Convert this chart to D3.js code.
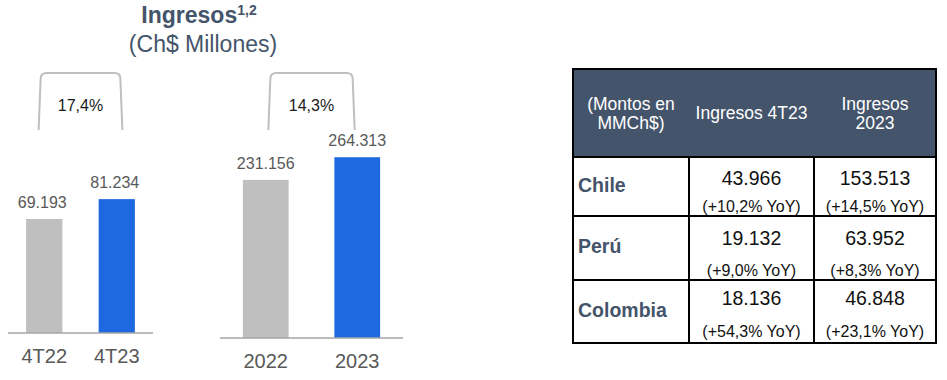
<!DOCTYPE html>
<html><head><meta charset="utf-8">
<script src="https://cdn.jsdelivr.net/npm/d3@7"></script>
<style>body{margin:0;background:#fff}svg{display:block;font-family:"Liberation Sans",Arial,sans-serif}</style>
</head><body><svg id="c" width="947" height="380"></svg>
<script>
// ---- data ----
const quarterCats = ["4T22", "4T23"];
const quarterVals = [69193, 81234];
const quarterGrowth = "17,4%";
const yearCats = ["2022", "2023"];
const yearVals = [231156, 264313];
const yearGrowth = "14,3%";
const tableHeaders = [["(Montos en", "MMCh$)"], ["Ingresos 4T23"], ["Ingresos", "2023"]];
const countries = ["Chile", "Perú", "Colombia"];
const q4Vals = ["43.966", "19.132", "18.136"];
const q4YoY = ["(+10,2% YoY)", "(+9,0% YoY)", "(+54,3% YoY)"];
const yrVals = ["153.513", "63.952", "46.848"];
const yrYoY = ["(+14,5% YoY)", "(+8,3% YoY)", "(+23,1% YoY)"];

const svg = d3.select("#c");
const slate = "#44546A";
const fmt = v => d3.format(",")(v).replace(/,/g, ".");

// Title
const t = svg.append("text").attr("x", 199).attr("y", 23).attr("text-anchor", "middle").attr("fill", slate);
t.append("tspan").attr("font-size", 23).attr("font-weight", "bold").text("Ingresos");
t.append("tspan").attr("font-size", 14).attr("font-weight", "bold").attr("dy", -8).text("1,2");
svg.append("text").attr("x", 203).attr("y", 52).attr("text-anchor", "middle").attr("fill", slate)
  .attr("font-size", 23).text("(Ch$ Millones)");

function barChart(cats, vals, growth, o) {
  const x = d3.scaleBand().domain(cats).range([o.x0, o.x1]).paddingInner(0.5).paddingOuter(0.25);
  const y = d3.scaleLinear().domain([0, o.max]).range([o.base, o.base - o.h]);
  const g = svg.append("g");
  g.selectAll("rect").data(vals).join("rect")
    .attr("x", (d, i) => x(cats[i])).attr("width", x.bandwidth())
    .attr("y", d => y(d)).attr("height", d => y(0) - y(d))
    .attr("fill", (d, i) => i === 0 ? "#BFBFBF" : "#1F69E0");
  g.append("line").attr("x1", o.x0).attr("x2", o.x1).attr("y1", y(0)).attr("y2", y(0))
    .attr("stroke", "#A6A6A6").attr("stroke-width", 1.5);
  g.selectAll("text.v").data(vals).join("text").attr("class", "v")
    .attr("x", (d, i) => x(cats[i]) + x.bandwidth() / 2 - (o.vshift || 0))
    .attr("y", d => y(d) - 11).attr("text-anchor", "middle")
    .attr("font-size", 16).attr("fill", "#595959").text(d => fmt(d));
  const xa = d3.axisBottom(x).tickSize(0).tickPadding(0);
  const ax = g.append("g").attr("transform", `translate(0,${y(0) + o.catDy})`).call(xa);
  ax.select(".domain").remove();
  ax.selectAll("text").attr("font-size", 20).attr("fill", "#595959").attr("dy", 0)
    .attr("font-family", '"Liberation Sans",Arial,sans-serif');
  // bracket
  const bl = x(cats[0]) + x.bandwidth() * o.bf[0], br = x(cats[1]) + x.bandwidth() * o.bf[1];
  const top = 73, bot = 130, r = 6;
  const p = d3.path();
  p.moveTo(bl - 2, bot); p.lineTo(bl, top + r); p.quadraticCurveTo(bl, top, bl + r, top);
  p.lineTo(br - r, top); p.quadraticCurveTo(br, top, br, top + r); p.lineTo(br + 2, bot);
  g.append("path").attr("d", p.toString()).attr("fill", "none").attr("stroke", "#BFBFBF").attr("stroke-width", 2);
  g.append("text").attr("x", (bl + br) / 2).attr("y", 111).attr("text-anchor", "middle")
    .attr("font-size", 16).attr("fill", "#1a1a1a").text(growth);
}
barChart(quarterCats, quarterVals, quarterGrowth, {x0: 8, x1: 153, base: 333, h: 164.8, max: 100000, catDy: 30, bf: [0.4, 0.6], vshift: 2});
barChart(yearCats, yearVals, yearGrowth, {x0: 220, x1: 403, base: 338, h: 205.2, max: 300000, catDy: 30, bf: [0.6, 0.4], vshift: 0});

// Table
const colX = [573, 689, 814, 936];
const rowY = [69, 157, 216, 280, 343];
const tg = svg.append("g");
tg.append("rect").attr("x", colX[0]).attr("y", rowY[0]).attr("width", colX[3] - colX[0]).attr("height", rowY[1] - rowY[0])
  .attr("fill", slate);
// header text
tableHeaders.forEach((lines, i) => {
  const cx = (colX[i] + colX[i + 1]) / 2;
  const cy = (rowY[0] + rowY[1]) / 2;
  const lh = 19;
  lines.forEach((ln, j) => {
    tg.append("text").attr("x", cx).attr("y", cy + 6 + (j - (lines.length - 1) / 2) * lh)
      .attr("text-anchor", "middle").attr("font-size", 17.5).attr("fill", "#fff").text(ln);
  });
});
// body rows
countries.forEach((c, i) => {
  const labY = [192, 253, 317][i];
  tg.append("text").attr("x", colX[0] + 5).attr("y", labY).attr("font-size", 19.5).attr("font-weight", "bold")
    .attr("fill", slate).text(c);
  const numY = [185, 245, 305][i], yoyY = [212, 276, 337][i];
  [[q4Vals, q4YoY], [yrVals, yrYoY]].forEach(([nv, yv], k) => {
    const cx = (colX[k + 1] + colX[k + 2]) / 2;
    tg.append("text").attr("x", cx).attr("y", numY).attr("text-anchor", "middle").attr("font-size", 19.5).attr("fill", "#111").text(nv[i]);
    tg.append("text").attr("x", cx).attr("y", yoyY).attr("text-anchor", "middle").attr("font-size", 16)
      .attr("fill", "#111").text(yv[i]);
  });
});
// grid lines
const ln = (x1, y1, x2, y2) => tg.append("line").attr("x1", x1).attr("y1", y1).attr("x2", x2).attr("y2", y2)
  .attr("stroke", "#000").attr("stroke-width", 2);
rowY.slice(1, 4).forEach(y => ln(colX[0], y, colX[3], y));
ln(colX[1], rowY[1], colX[1], rowY[4]);
ln(colX[2], rowY[1], colX[2], rowY[4]);
tg.append("rect").attr("x", colX[0]).attr("y", rowY[0]).attr("width", colX[3] - colX[0]).attr("height", rowY[4] - rowY[0])
  .attr("fill", "none").attr("stroke", "#000").attr("stroke-width", 2);
</script></body></html>
